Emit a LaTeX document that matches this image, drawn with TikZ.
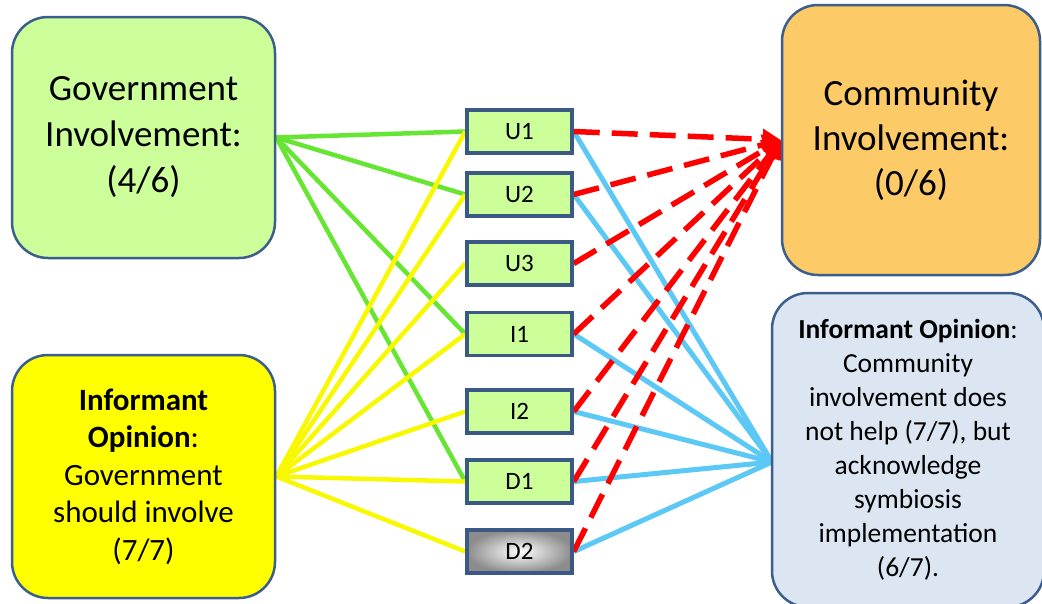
\documentclass[tikz,border=0pt]{standalone}
\usepackage{fontspec}
\setmainfont{Carlito}
\usetikzlibrary{arrows.meta,backgrounds}
\definecolor{boxedge}{HTML}{3B5E8C}
\definecolor{midedge}{HTML}{3A5A85}
\definecolor{lightgreen}{HTML}{CCFF99}
\definecolor{brightyellow}{HTML}{FFFF00}
\definecolor{orangefill}{HTML}{FCCA66}
\definecolor{paleblue}{HTML}{DCE6F2}
\definecolor{greenline}{HTML}{66E633}
\definecolor{yellowline}{HTML}{F8F800}
\definecolor{blueline}{HTML}{5BC8F5}
\definecolor{redline}{HTML}{FF0000}
\tikzset{
  bigbox/.style={draw=boxedge, line width=2.5pt, rounded corners=36pt,
    align=center, inner sep=0pt},
  midbox/.style={draw=midedge, line width=3.5pt, fill=lightgreen,
    minimum width=105pt, minimum height=43pt, inner sep=0pt,
    font=\fontsize{25}{29}\selectfont},
  govlink/.style={draw=greenline, line width=4.5pt},
  opinlink/.style={draw=yellowline, line width=4.5pt},
  commlink/.style={draw=blueline, line width=5pt},
  redlink/.style={draw=redline, line width=5.5pt, dash pattern=on 26pt off 12pt,
    -{Triangle[length=18pt,width=20pt]}},
}
\begin{document}
\begin{tikzpicture}[x=1pt,y=-1pt]
\useasboundingbox (0,0) rectangle (1042,603);

% outer boxes
\node[bigbox, fill=lightgreen, minimum width=263pt, minimum height=241pt,
  font=\fontsize{37}{46}\selectfont] (gov) at (143.5,137.5)
  {Government\\Involvement:\\(4/6)};
\node[bigbox, fill=brightyellow, minimum width=263pt, minimum height=243pt,
  font=\fontsize{31}{37.5}\selectfont] (gop) at (143.5,476.5)
  {\textbf{Informant}\\\textbf{Opinion}:\\Government\\should involve\\(7/7)};
\node[bigbox, fill=orangefill, minimum width=258pt, minimum height=270pt,
  font=\fontsize{37}{45}\selectfont] (comm) at (911,140)
  {Community\\Involvement:\\(0/6)};
\node[bigbox, fill=paleblue, minimum width=272pt, minimum height=314pt,
  font=\fontsize{27.5}{34}\selectfont] (cop) at (908,450)
  {\textbf{Informant Opinion}:\\Community\\involvement does\\not help (7/7), but\\acknowledge\\symbiosis\\implementation\\(6/7).};
\coordinate (copin) at (772,462);

% middle codes
\node[midbox] (u1) at (519.5,131.5) {U1};
\node[midbox] (u2) at (519.5,194.5) {U2};
\node[midbox] (u3) at (519.5,263.5) {U3};
\node[midbox] (i1) at (519.5,334) {I1};
\node[midbox] (i2) at (519.5,411.5) {I2};
\node[midbox] (d1) at (519.5,481.5) {D1};
\node[midbox, shade, inner color=white, outer color=gray!90] (d2) at (519.5,551.5) {D2};

\begin{scope}[on background layer]
  % government involvement links
  \foreach \n in {u1,u2,i1,d1}
    \draw[govlink] (gov.east) -- (\n.west);
  % informant opinion links (left)
  \foreach \n in {u1,u2,u3,i1,i2,d1,d2}
    \draw[opinlink] (gop.east) -- (\n.west);
  % informant opinion links (right)
  \foreach \n in {u1,u2,i1,i2,d1,d2}
    \draw[commlink] (copin) -- (\n.east);
  % community involvement links
  \foreach \n in {u1,u2,u3,i1,i2,d1,d2}
    \draw[redlink] (\n.east) -- (comm.west);
\end{scope}
\end{tikzpicture}
\end{document}
